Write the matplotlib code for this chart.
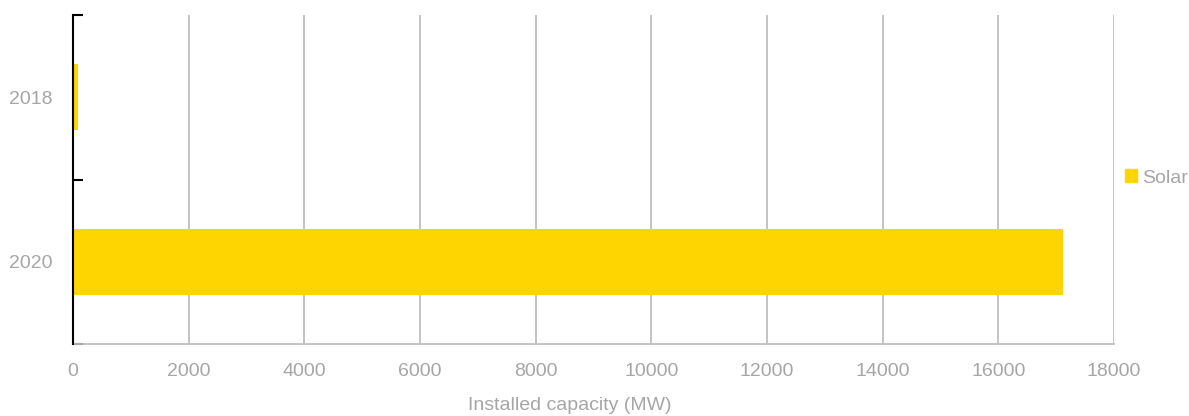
import matplotlib
import matplotlib.pyplot as plt
from matplotlib.patches import Patch

matplotlib.use('agg')

years = ['2018', '2020']
solar = [85, 17120]
xticks = list(range(0, 18001, 2000))

grey = '#a6a6a6'
gridc = '#bfbfbf'
yellow = '#ffd500'

plt.rcParams['font.family'] = ['Liberation Sans', 'DejaVu Sans']

fig = plt.figure(figsize=(11.89, 4.16), dpi=100)
ax = fig.add_axes([73 / 1189, 72 / 416, (1114 - 73) / 1189, (344 - 15) / 416])

pos = list(range(len(years)))
ax.barh(pos, solar, height=0.4, color=yellow, zorder=3)
ax.set_ylim(len(years) - 0.5, -0.5)
ax.set_xlim(0, 18000)

ax.set_xticks(xticks)
ax.set_xticklabels([str(t) for t in xticks])
ax.set_yticks(pos)
ax.set_yticklabels(years)
ax.set_yticks([-0.5, 0.5, 1.5], minor=True)

ax.grid(axis='x', color=gridc, linewidth=1.3, zorder=0)
ax.tick_params(axis='x', length=0, labelsize=14, labelcolor=grey, pad=14)
ax.tick_params(axis='y', which='major', length=0, labelsize=14, labelcolor=grey, pad=15)
ax.tick_params(axis='y', which='minor', length=7, width=1.5, direction='in', color='black')

for side in ['top', 'right']:
    ax.spines[side].set_visible(False)
ax.spines['bottom'].set_color(gridc)
ax.spines['bottom'].set_linewidth(1.3)
ax.spines['left'].set_color('black')
ax.spines['left'].set_linewidth(1.5)
ax.spines['left'].set_zorder(4)

ax.set_xlabel('Installed capacity (MW)', fontsize=14, color=grey)
ax.xaxis.set_label_coords(0.477, -0.16)

fig.legend(handles=[Patch(color=yellow, label='Solar')], loc='center left',
           bbox_to_anchor=(1125 / 1189, 1 - 178 / 416), frameon=False,
           borderaxespad=0, borderpad=0,
           fontsize=14, labelcolor=grey, handlelength=0.62, handleheight=0.62,
           handletextpad=0.25)

fig.savefig('out.png', dpi=100)
